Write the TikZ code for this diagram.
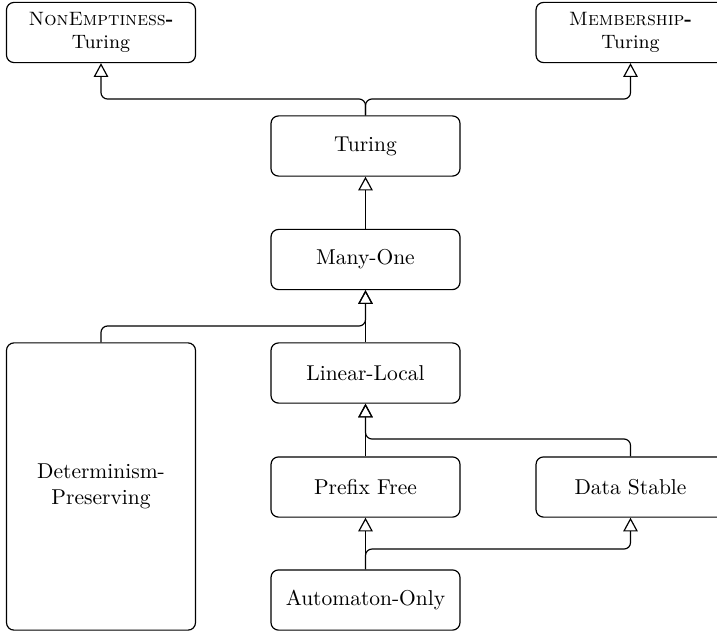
\documentclass[tikz,border=0pt]{standalone}
\usetikzlibrary{arrows.meta}
\begin{document}
\begin{tikzpicture}[x=0.4651pt,y=-0.4651pt,
  box/.style={draw, rounded corners=3.5pt, minimum width=87.9pt, minimum height=28pt, align=center, line width=0.55pt, inner sep=2pt},
  arr/.style={draw, line width=0.55pt, rounded corners=3pt, -{Triangle[open,width=6.8pt,length=6.4pt,line width=0.55pt]}}]
\useasboundingbox (0,0) rectangle (717,633);
\node[box, font=\small] (ne) at (101,32.5) {\textsc{NonEmptiness}{\bfseries -}\\Turing};
\node[box, font=\small] (me) at (630.5,32.5) {\textsc{Membership}{\bfseries -}\\Turing};
\node[box] (tu) at (365.5,146) {Turing};
\node[box] (mo) at (365.5,259.5) {Many-One};
\node[box] (ll) at (365.5,373) {Linear-Local};
\node[box, minimum height=133.6pt] (dp) at (101,486.5) {Determinism-\\Preserving};
\node[box] (pf) at (365.5,487) {Prefix Free};
\node[box] (ds) at (630.5,487) {Data Stable};
\node[box] (ao) at (365.5,600) {Automaton-Only};
\coordinate (j1) at (365.5,99);
\coordinate (j2) at (101,326);
\coordinate (j3) at (630.5,439);
\coordinate (j4) at (365.5,549);
\draw[arr] (tu.north) -- (j1) -| (ne.south);
\draw[arr] (tu.north) -- (j1) -| (me.south);
\draw[arr] (mo) -- (tu);
\draw[arr] (ll) -- (mo);
\draw[arr] (dp.north) -- (j2) -| (mo.south);
\draw[arr] (pf) -- (ll);
\draw[arr] (ds.north) -- (j3) -| (ll.south);
\draw[arr] (ao) -- (pf);
\draw[arr] (ao.north) -- (j4) -| (ds.south);
\end{tikzpicture}
\end{document}
